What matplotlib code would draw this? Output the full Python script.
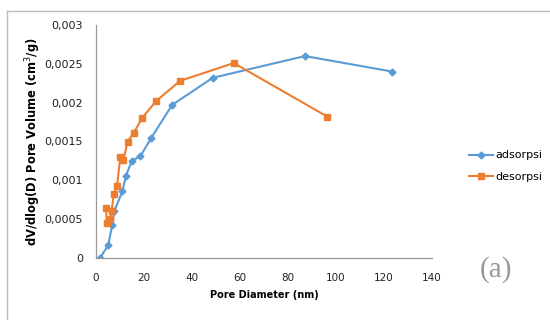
import matplotlib
matplotlib.use("Agg")
import matplotlib.pyplot as plt
from matplotlib.lines import Line2D
from matplotlib.ticker import FuncFormatter

plt.rcParams['font.family'] = ['DejaVu Sans']

ads_x = [1.7, 5.1, 6.8, 7.6, 11.0, 12.5, 14.9, 18.5, 22.9, 31.7, 48.6, 87.1, 123.5]
ads_y = [0.0, 0.000167, 0.00043, 0.0006, 0.00086, 0.00106, 0.00125, 0.00131, 0.00154, 0.00197, 0.00232, 0.0026, 0.0024]

des_x = [4.2, 4.4, 5.8, 6.5, 7.4, 8.8, 10.1, 11.4, 13.2, 15.7, 19.2, 25.0, 35.0, 57.4, 96.4]
des_y = [0.00064, 0.00045, 0.0005, 0.0006, 0.00082, 0.00093, 0.0013, 0.00126, 0.0015, 0.00161, 0.0018, 0.00202, 0.00228, 0.00251, 0.00182]

x_ticks = [0, 20, 40, 60, 80, 100, 120, 140]
y_ticks = [0, 0.0005, 0.001, 0.0015, 0.002, 0.0025, 0.003]

fig = plt.figure(figsize=(5.5, 3.2), dpi=100)
ax = fig.add_axes([96/550, 62/320, 336/550, 233/320])

blue = '#5B9BD5'
orange = '#ED7D31'
ax.plot(ads_x, ads_y, color=blue, marker='D', markersize=3.5, linewidth=1.5, label='adsorpsi')
ax.plot(des_x, des_y, color=orange, marker='s', markersize=5, linewidth=1.5, label='desorpsi')

ax.set_xlim(0, 140)
ax.set_ylim(0, 0.003)
ax.set_xticks(x_ticks)
ax.set_yticks(y_ticks)
ax.yaxis.set_major_formatter(FuncFormatter(lambda v, p: ('%g' % v).replace('.', ',') if v != 0 else '0'))
ax.tick_params(length=0, labelsize=7.5, colors='#222222')
ax.tick_params(axis='y', labelsize=8, pad=9.5)
ax.tick_params(axis='x', pad=11)

for s in ['top', 'right']:
    ax.spines[s].set_visible(False)
for s in ['left', 'bottom']:
    ax.spines[s].set_color('#999999')
    ax.spines[s].set_linewidth(0.9)

ax.set_xlabel('Pore Diameter (nm)', fontsize=7, fontweight='bold', labelpad=5)
ax.set_ylabel('dV/dlog(D) Pore Volume (cm$^3$/g)', fontsize=8.3, fontweight='bold', labelpad=0.5)

ax.legend(loc='center left', bbox_to_anchor=(1.08, 0.395), frameon=False, fontsize=8,
          handlelength=2.2, handletextpad=0.2, labelspacing=1.0)

fig.text(496/550, 1 - 270/320, '(a)', fontsize=21, color='#999999',
         family=['Liberation Serif', 'DejaVu Serif'], ha='center', va='center')

fig.add_artist(Line2D([7/550, 7/550], [0, 1 - 10.5/320], transform=fig.transFigure, color='#bbbbbb', linewidth=1))
fig.add_artist(Line2D([7/550, 1], [1 - 10.5/320, 1 - 10.5/320], transform=fig.transFigure, color='#bbbbbb', linewidth=1))

fig.savefig('out.png', dpi=100)
